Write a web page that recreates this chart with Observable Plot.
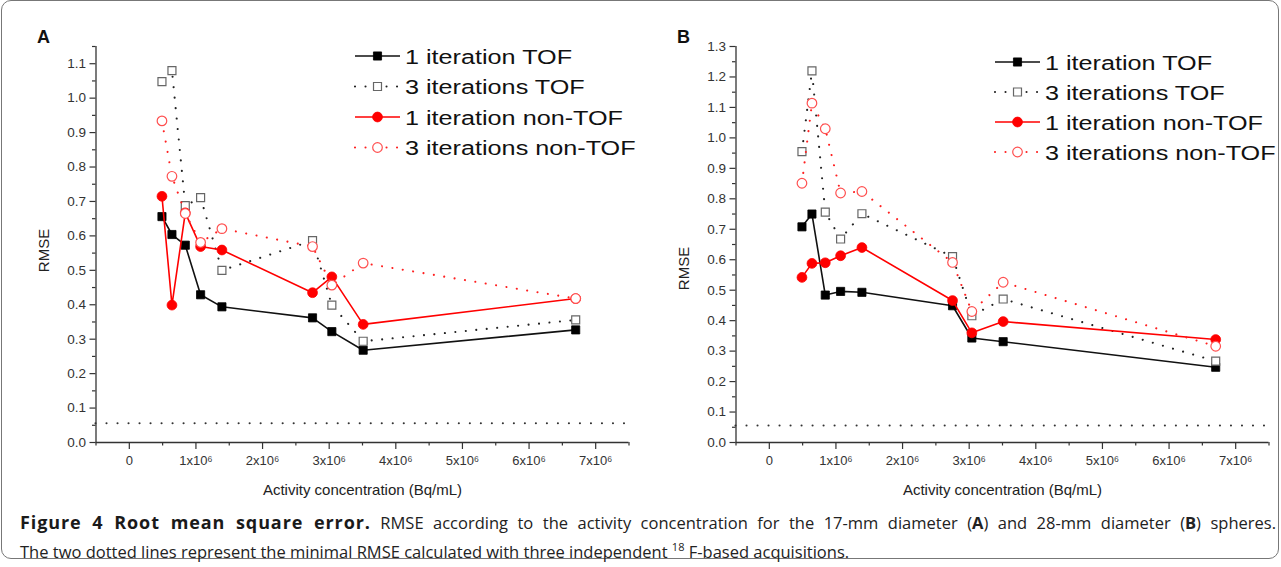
<!DOCTYPE html>
<html><head><meta charset="utf-8">
<script src="https://cdn.jsdelivr.net/npm/d3@7"></script>
<script src="https://cdn.jsdelivr.net/npm/@observablehq/plot@0.6"></script>
<style>
html,body{margin:0;padding:0;background:#fff;}
#fig{position:relative;width:1281px;height:567px;overflow:hidden;font-family:"Liberation Sans",Arial,sans-serif;}
#frame{position:absolute;left:1px;top:0px;width:1278px;height:559px;border:1px solid #777;border-radius:10px;box-sizing:border-box;}
.panel{position:absolute;top:0;}
.panel svg{display:block;}
.letter{position:absolute;top:27px;font-weight:bold;font-size:18px;color:#111;}
.cap{position:absolute;left:20px;width:1256px;font-family:"Open Sans",sans-serif;font-size:16.5px;line-height:26px;color:#222;white-space:nowrap;}
#cap1{top:509px;text-align:justify;text-align-last:justify;}
#cap2{top:534px;}
#cap1 b.t{font-size:18px;letter-spacing:0.9px;color:#1a1a1a;}
</style></head>
<body><div id="fig">
<div id="frame"></div>
<div id="pa" class="panel" style="left:0px"></div>
<div id="pb" class="panel" style="left:640px"></div>
<div class="letter" style="left:37px">A</div>
<div class="letter" style="left:677px">B</div>
<div id="cap1" class="cap"><b class="t">Figure 4 Root mean square error.</b> RMSE according to the activity concentration for the 17-mm diameter (<b>A</b>) and 28-mm diameter (<b>B</b>) spheres.</div>
<div id="cap2" class="cap">The two dotted lines represent the minimal RMSE calculated with three independent <sup style="font-size:11px">18</sup> F-based acquisitions.</div>
</div>
<script>
// ---- data ----
const activity = [0.49e6, 0.64e6, 0.84e6, 1.07e6, 1.39e6, 2.75e6, 3.04e6, 3.51e6, 6.70e6];
const seriesNames = ["1 iteration TOF", "3 iterations TOF", "1 iteration non-TOF", "3 iterations non-TOF"];

const a_1itTOF    = [0.656, 0.604, 0.573, 0.429, 0.394, 0.362, 0.322, 0.268, 0.327];
const a_3itTOF    = [1.048, 1.080, 0.688, 0.711, 0.500, 0.586, 0.399, 0.294, 0.356];
const a_1itNonTOF = [0.715, 0.399, 0.667, 0.569, 0.559, 0.435, 0.481, 0.343, 0.418];
const a_3itNonTOF = [0.934, 0.773, 0.665, 0.581, 0.621, 0.569, 0.457, 0.521, 0.418];
const a_minRMSE = 0.056;

const b_1itTOF    = [0.708, 0.750, 0.484, 0.496, 0.493, 0.449, 0.343, 0.331, 0.247];
const b_3itTOF    = [0.955, 1.220, 0.756, 0.668, 0.751, 0.610, 0.416, 0.471, 0.267];
const b_1itNonTOF = [0.542, 0.588, 0.590, 0.613, 0.640, 0.466, 0.360, 0.397, 0.338];
const b_3itNonTOF = [0.851, 1.114, 1.030, 0.819, 0.824, 0.591, 0.430, 0.526, 0.316];
const b_minRMSE = 0.056;

const xTicks = [0, 1e6, 2e6, 3e6, 4e6, 5e6, 6e6, 7e6];
const xTickLabels = ["0", "1x10\u2076", "2x10\u2076", "3x10\u2076", "4x10\u2076", "5x10\u2076", "6x10\u2076", "7x10\u2076"];
const xMinorTicks = [-0.5e6, 0.5e6, 1.5e6, 2.5e6, 3.5e6, 4.5e6, 5.5e6, 6.5e6, 7.5e6];
const xTitle = "Activity concentration (Bq/mL)";
const yTitle = "RMSE";
const aYTicks = [0, 0.1, 0.2, 0.3, 0.4, 0.5, 0.6, 0.7, 0.8, 0.9, 1.0, 1.1];
const bYTicks = [0, 0.1, 0.2, 0.3, 0.4, 0.5, 0.6, 0.7, 0.8, 0.9, 1.0, 1.1, 1.2, 1.3];

// ---- styles ----
const styles = [
  {stroke: "#111", dash: null, symbol: "square", fill: "#000", mstroke: "#000", r: 4.6, mw: 0.8},
  {stroke: "#222", dash: "0.01 10.5", symbol: "square", fill: "#fff", mstroke: "#666", r: 4.5, mw: 1.2},
  {stroke: "#ff0000", dash: null, symbol: "circle", fill: "#ff0000", mstroke: "#ff0000", r: 4.9, mw: 0.8},
  {stroke: "#ff2020", dash: "0.01 10.5", symbol: "circle", fill: "#fff", mstroke: "#ff5050", r: 4.8, mw: 1.2}
];

const font = '"Liberation Sans", Arial, sans-serif';

function panel(seriesVals, yDomain, yTicks, minVal, titleDy) {
  const yMinor = d3.range(0, Math.round(yDomain[1] / 0.05) + 1).map(i => +(i * 0.05).toFixed(2)).filter(v => !yTicks.some(t => Math.abs(t - v) < 1e-9));
  const marks = [
    Plot.ruleY([minVal], {stroke: "#333", strokeWidth: 2.1, strokeDasharray: "0.01 11", strokeLinecap: "round"}),
  ];
  seriesVals.forEach((vals, k) => {
    const rows = activity.map((x, i) => ({x, y: vals[i]}));
    const s = styles[k];
    marks.push(Plot.line(rows, {x: "x", y: "y", stroke: s.stroke, strokeWidth: s.dash ? 2.1 : 1.6,
      strokeDasharray: s.dash || undefined, strokeLinecap: s.dash ? "round" : "butt"}));
    marks.push(Plot.dot(rows, {x: "x", y: "y", symbol: s.symbol, r: s.r, fill: s.fill, stroke: s.mstroke, strokeWidth: s.mw}));
  });
  marks.push(
    Plot.ruleY([yDomain[0]], {stroke: "#333", strokeWidth: 1.3}),
    Plot.ruleX([-0.5e6], {stroke: "#333", strokeWidth: 1.3}),
    Plot.axisX(xTicks, {tickSize: 7, tickPadding: 6, tickFormat: d => xTickLabels[xTicks.indexOf(d)], label: null, fontSize: 13, stroke: "#333", strokeWidth: 1.2}),
    Plot.axisX(xMinorTicks, {tickSize: 3.5, tickFormat: () => "", label: null, stroke: "#333", strokeWidth: 1.2}),
    Plot.axisY(yTicks, {tickSize: 6, tickPadding: 4, tickFormat: d3.format(".1f"), label: null, fontSize: 13.5, stroke: "#333", strokeWidth: 1.2}),
    Plot.axisY(yMinor, {tickSize: 3.5, tickFormat: () => "", label: null, stroke: "#333", strokeWidth: 1.2}),
    Plot.text([xTitle], {frameAnchor: "bottom", dy: 52.5, fontSize: 15, fill: "#222"}),
    Plot.text([yTitle], {frameAnchor: "left", textAnchor: "middle", dx: -52, dy: titleDy, rotate: -90, fontSize: 15, fill: "#222"})
  );
  return Plot.plot({
    width: 640, height: 500,
    marginLeft: 95.5, marginRight: 11.5, marginTop: 46, marginBottom: 58,
    x: {domain: [-0.5e6, 7.5e6]},
    y: {domain: yDomain},
    style: {fontFamily: font, fontSize: "13px", color: "#333", background: "transparent", overflow: "visible"},
    marks
  });
}

function legend(container, x0, yTop, gap) {
  const svg = d3.select(container).append("svg")
    .attr("width", 640).attr("height", 200)
    .style("position", "absolute").style("left", "0px").style("top", "0px").style("overflow", "visible");
  seriesNames.forEach((name, k) => {
    const s = styles[k];
    const y = yTop + k * gap;
    const line = svg.append("line").attr("x1", x0).attr("x2", x0 + 45).attr("y1", y).attr("y2", y)
      .attr("stroke", s.stroke).attr("stroke-width", s.dash ? 2.1 : 1.6);
    if (s.dash) line.attr("stroke-dasharray", s.dash).attr("stroke-linecap", "round");
    const sym = s.symbol === "square" ? d3.symbolSquare : d3.symbolCircle;
    svg.append("path").attr("d", d3.symbol(sym, Math.PI * s.r * s.r)())
      .attr("transform", `translate(${x0 + 22.5},${y})`)
      .attr("fill", s.fill).attr("stroke", s.mstroke).attr("stroke-width", s.mw);
    svg.append("text").attr("transform", `translate(${x0 + 50},${y}) scale(1.2,1)`).attr("dy", "0.36em")
      .attr("font-family", font).attr("font-size", 21).attr("fill", "#111").text(name);
  });
}

const pa = document.getElementById("pa");
pa.appendChild(panel([a_1itTOF, a_3itTOF, a_1itNonTOF, a_3itNonTOF], [0, 1.15], aYTicks, a_minRMSE, 6));
legend(pa, 355, 56, 30.5);

const pb = document.getElementById("pb");
pb.appendChild(panel([b_1itTOF, b_3itTOF, b_1itNonTOF, b_3itNonTOF], [0, 1.3], bYTicks, b_minRMSE, 24));
legend(pb, 355, 62, 30);
</script>
</body></html>
